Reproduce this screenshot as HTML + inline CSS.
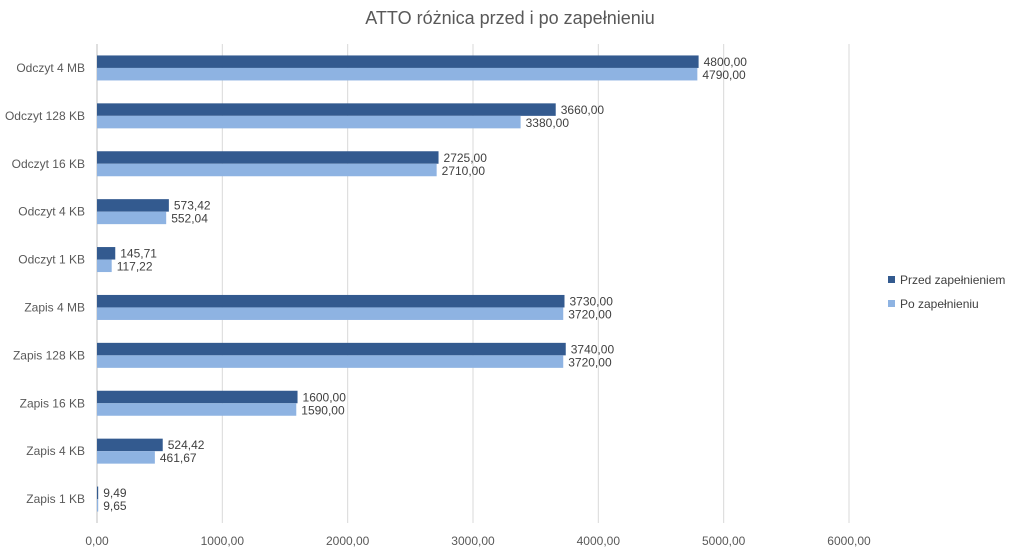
<!DOCTYPE html>
<html><head><meta charset="utf-8"><style>
body{margin:0;background:#fff;font-family:"Liberation Sans",sans-serif}
svg text{font-family:"Liberation Sans",sans-serif}
</style></head><body>
<svg width="1021" height="554" id="c">
<text x="510" y="24" text-anchor="middle" font-size="18" fill="#595959">ATTO różnica przed i po zapełnieniu</text>
<g id="grid"></g><g id="bars"></g><g id="labels"></g>
<g>
<rect x="888" y="276" width="7" height="7" fill="#335a8f"/>
<text x="900" y="284" font-size="12" fill="#404040">Przed zapełnieniem</text>
<rect x="888" y="300" width="7" height="7" fill="#8eb3e2"/>
<text x="900" y="308" font-size="12" fill="#404040">Po zapełnieniu</text>
</g>
</svg>
<script>
const categories=["Odczyt 4 MB","Odczyt 128 KB","Odczyt 16 KB","Odczyt 4 KB","Odczyt 1 KB","Zapis 4 MB","Zapis 128 KB","Zapis 16 KB","Zapis 4 KB","Zapis 1 KB"];
const przed=[4800,3660,2725,573.42,145.71,3730,3740,1600,524.42,9.49];
const po=[4790,3380,2710,552.04,117.22,3720,3720,1590,461.67,9.65];
const ticks=[0,1000,2000,3000,4000,5000,6000];
const NS="http://www.w3.org/2000/svg";
const x0=97,pxPer=752/6000,topY=44,bandH=47.9;
const X=v=>x0+v*pxPer;
const fmt=v=>v.toFixed(2).replace('.',',');
function mk(t,a,p){const e=document.createElementNS(NS,t);for(const k in a)e.setAttribute(k,a[k]);document.getElementById(p).appendChild(e);return e;}
ticks.forEach(t=>{
 const l=mk('line',{x1:X(t),x2:X(t),y1:topY,y2:523,stroke:t===0?'#bfbfbf':'#d9d9d9','stroke-width':1},'grid');
 
 
 const tx=mk('text',{x:X(t),y:545,'text-anchor':'middle','font-size':12,fill:'#595959'},'labels');
 tx.textContent=fmt(t);
 
 
});
categories.forEach((c,i)=>{
 const cy=topY+bandH*(i+0.5);
 const t=mk('text',{x:85,y:cy+4,'text-anchor':'end','font-size':12,fill:'#595959'},'labels');
 t.textContent=c;
 
 
 const b1=mk('rect',{x:X(0),y:cy-12.5,width:Math.max(1,X(przed[i])-X(0)),height:12.5,fill:'#335a8f'},'bars');
 
 
 const b2=mk('rect',{x:X(0),y:cy,width:Math.max(1,X(po[i])-X(0)),height:12.5,fill:'#8eb3e2'},'bars');
 
 
 const l1=mk('text',{x:X(przed[i])+5,y:cy-2,'font-size':12,fill:'#404040'},'labels');
 l1.textContent=fmt(przed[i]);
 
 
 const l2=mk('text',{x:X(po[i])+5,y:cy+11,'font-size':12,fill:'#404040'},'labels');
 l2.textContent=fmt(po[i]);
 
 
});
</script>
</body></html>
